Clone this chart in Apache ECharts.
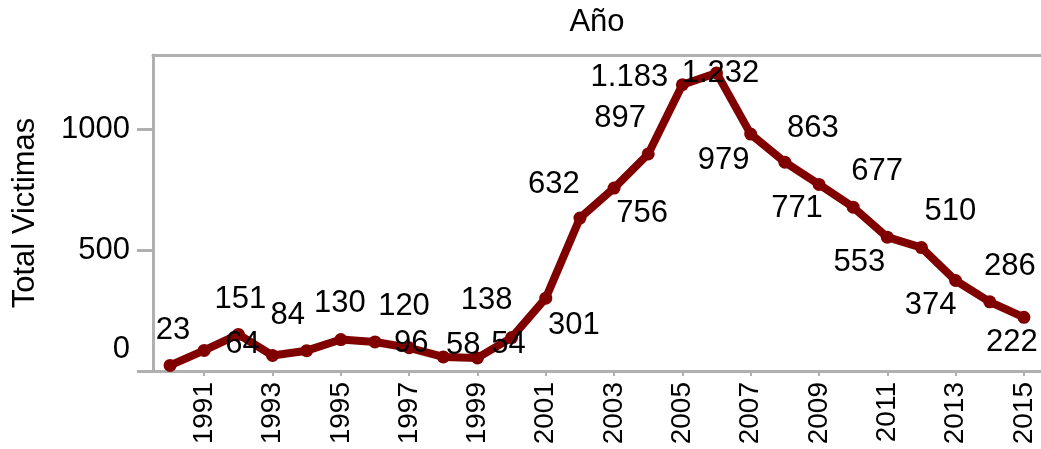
<!DOCTYPE html>
<html>
<head>
<meta charset="utf-8">
<script src="https://cdn.jsdelivr.net/npm/echarts@6/dist/echarts.min.js"></script>
<style>html,body{margin:0;padding:0;background:#fff}#c{width:1041px;height:449px}</style>
</head>
<body>
<div id="c"></div>
<script>
const years = ['1990','1991','1992','1993','1994','1995','1996','1997','1998','1999','2000','2001','2002','2003','2004','2005','2006','2007','2008','2009','2010','2011','2012','2013','2014','2015'];
const victims = [23, 85, 151, 64, 84, 130, 120, 96, 58, 54, 138, 301, 632, 756, 897, 1183, 1232, 979, 863, 771, 677, 553, 510, 374, 286, 222];
const yTicks = [0, 500, 1000];
const xTitle = 'Año';
const yTitle = 'Total Victimas';

// label placement (style only), null = no label
const labelOffsets = [[3,-35],null,[2,-35],[-30,-11],[-19,-35],[-1,-36],[29,-36],[2,-4],[20,-12],[31,-13],[-25,-37],[28,27],[-26,-34],[28,25],[-28,-36],[-53,-7],[4,1],[-27,26],[28,-34],[-22,24],[24,-36],[-28,25],[29,-36],[-25,25],[20,-35],[-12,25]];

const fmt = v => String(v).replace(/\B(?=(\d{3})+(?!\d))/g, '.');
const FONT = 'Liberation Sans, Arial, sans-serif';
const gray = '#b0b0b0';

const data = victims.map((v, i) => {
  const o = labelOffsets[i];
  return {
    value: v,
    label: o ? { show: true, position: 'inside', offset: o } : { show: false }
  };
});

const chart = echarts.init(document.getElementById('c'));
chart.setOption({
  animation: false,
  grid: { left: 153, right: 0, top: 55, bottom: 78 },
  xAxis: [{
    type: 'category', data: years, boundaryGap: true, position: 'bottom',
    axisLine: { show: true, lineStyle: { color: gray, width: 3 } },
    axisTick: { show: true, alignWithLabel: true, length: 5, interval: i => i % 2 === 1, lineStyle: { color: gray, width: 2 } },
    axisLabel: { rotate: 90, margin: 11, interval: i => i % 2 === 1, color: '#000', fontSize: 28, fontFamily: FONT },
    splitLine: { show: false }
  }, {
    type: 'category', data: years, boundaryGap: true, position: 'top',
    name: xTitle, nameLocation: 'middle', nameGap: 17,
    nameTextStyle: { color: '#000', fontSize: 31, fontFamily: FONT },
    axisLine: { show: true, lineStyle: { color: gray, width: 3 } },
    axisTick: { show: false }, axisLabel: { show: false }, splitLine: { show: false }
  }],
  yAxis: {
    type: 'value', min: 0, max: 1306,
    name: yTitle, nameLocation: 'middle', nameGap: 112, nameRotate: 90,
    nameTextStyle: { color: '#000', fontSize: 31, fontFamily: FONT },
    axisLine: { show: true, lineStyle: { color: gray, width: 3 } },
    axisTick: { show: true, length: 16, customValues: yTicks, lineStyle: { color: gray, width: 3 } },
    axisLabel: {
      customValues: yTicks, margin: 23, color: '#000', fontSize: 31, fontFamily: FONT,
      formatter: v => v === 0 ? '{z|0}' : String(v),
      rich: { z: { fontSize: 31, fontFamily: FONT, color: '#000', padding: [0, 0, 44, 0] } }
    },
    splitLine: { show: false }
  },
  series: [{
    type: 'line', data: data,
    lineStyle: { color: '#800000', width: 8 },
    itemStyle: { color: '#800000' },
    symbol: 'circle', symbolSize: 13,
    label: { color: '#000', fontSize: 31, fontFamily: FONT, formatter: p => fmt(p.value), align: 'center', verticalAlign: 'middle' },
    z: 3
  }]
});
</script>
</body>
</html>
